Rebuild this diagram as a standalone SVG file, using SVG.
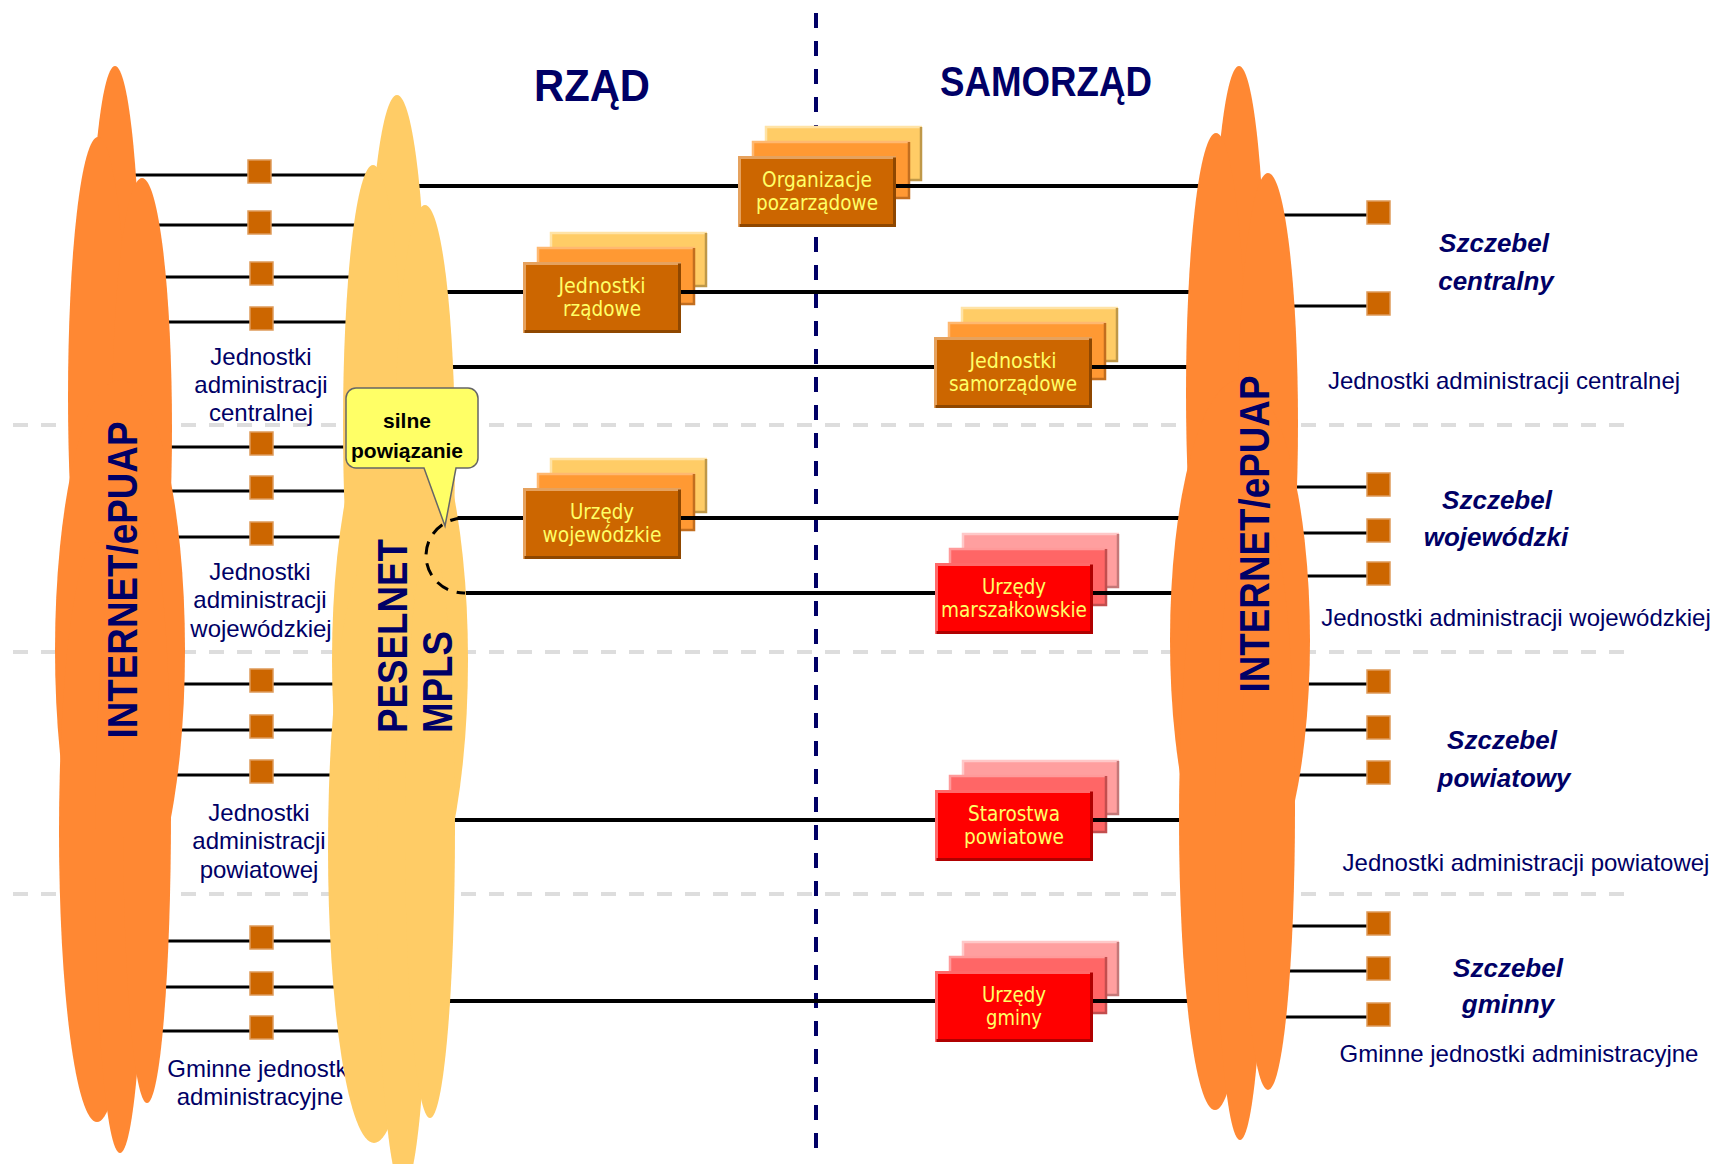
<svg xmlns="http://www.w3.org/2000/svg" width="1715" height="1164" viewBox="0 0 1715 1164">
<style>
.gd{stroke:#DDDDDD;stroke-width:4;stroke-dasharray:15 13;fill:none}
.vd{stroke:#000066;stroke-width:4;stroke-dasharray:15 13;fill:none}
.ln{stroke:#000;stroke-width:4;fill:none}
.lt{stroke:#000;stroke-width:3;fill:none}
.arc{stroke:#000;stroke-width:3;stroke-dasharray:13 9;fill:none}
.sq{fill:#CC6600;stroke:#DE9A5A;stroke-width:1.5}
.lbl{font-family:"Liberation Sans",Arial,sans-serif;font-size:24px;fill:#000066;text-anchor:middle}
.lvl{font-family:"Liberation Sans",Arial,sans-serif;font-size:26px;font-weight:bold;font-style:italic;fill:#000066;text-anchor:middle}
.cl{font-family:"Liberation Sans",Arial,sans-serif;font-size:42px;font-weight:bold;fill:#000066}
.ttl{font-family:"Liberation Sans",Arial,sans-serif;font-weight:bold;fill:#000066;text-anchor:middle}
.bt{font-family:"DejaVu Sans Condensed","DejaVu Sans",sans-serif;font-stretch:condensed;font-size:21px;fill:#FFFF66;text-anchor:middle}
.bub{font-family:"Liberation Sans",Arial,sans-serif;font-size:21px;font-weight:bold;fill:#000;text-anchor:middle}
.o1{fill:#CC6600}.o1l{stroke:#E6A25E;stroke-width:3;fill:none}.o1d{stroke:#8F4700;stroke-width:3;fill:none}
.o2{fill:#FF9933}.o2l{stroke:#FFB870;stroke-width:2.5;fill:none}.o2d{stroke:#C26E1F;stroke-width:2.5;fill:none}
.o3{fill:#FFCC66}.o3l{stroke:#FFE3A6;stroke-width:2.5;fill:none}.o3d{stroke:#BF9848;stroke-width:2.5;fill:none}
.r1{fill:#FF0000}.r1l{stroke:#FF6A6A;stroke-width:3;fill:none}.r1d{stroke:#B00000;stroke-width:3;fill:none}
.r2{fill:#FF6666}.r2l{stroke:#FF9A9A;stroke-width:2.5;fill:none}.r2d{stroke:#C24E4E;stroke-width:2.5;fill:none}
.r3{fill:#FF9F9F}.r3l{stroke:#FFC8C8;stroke-width:2.5;fill:none}.r3d{stroke:#C47878;stroke-width:2.5;fill:none}
.cloudO{fill:#FF8833}
.cloudY{fill:#FFCC66}
</style>

<!-- background guides -->
<g id="guides">
<line class="gd" x1="13" y1="425" x2="1624" y2="425"/>
<line class="gd" x1="13" y1="652" x2="1624" y2="652"/>
<line class="gd" x1="13" y1="894" x2="1624" y2="894"/>
<line class="vd" x1="816" y1="13" x2="816" y2="1148"/>
</g>

<!-- stacked back layers of boxes -->
<g id="stack-layers">
<rect class="o3" x="765" y="126" width="157" height="55"/><path class="o3l" d="M766,181V127H922"/><path class="o3d" d="M921,127V180H766"/>
<rect class="o2" x="752" y="141" width="158" height="58"/><path class="o2l" d="M753,199V142H910"/><path class="o2d" d="M909,142V198H753"/>
<rect class="o3" x="550" y="232" width="157" height="55"/><path class="o3l" d="M551,287V233H707"/><path class="o3d" d="M706,233V286H551"/>
<rect class="o2" x="537" y="247" width="158" height="58"/><path class="o2l" d="M538,305V248H695"/><path class="o2d" d="M694,248V304H538"/>
<rect class="o3" x="961" y="307" width="157" height="55"/><path class="o3l" d="M962,362V308H1118"/><path class="o3d" d="M1117,308V361H962"/>
<rect class="o2" x="948" y="322" width="158" height="58"/><path class="o2l" d="M949,380V323H1106"/><path class="o2d" d="M1105,323V379H949"/>
<rect class="o3" x="550" y="458" width="157" height="55"/><path class="o3l" d="M551,513V459H707"/><path class="o3d" d="M706,459V512H551"/>
<rect class="o2" x="537" y="473" width="158" height="58"/><path class="o2l" d="M538,531V474H695"/><path class="o2d" d="M694,474V530H538"/>
<rect class="r3" x="962" y="533" width="157" height="55"/><path class="r3l" d="M963,588V534H1119"/><path class="r3d" d="M1118,534V587H963"/>
<rect class="r2" x="949" y="548" width="158" height="58"/><path class="r2l" d="M950,606V549H1107"/><path class="r2d" d="M1106,549V605H950"/>
<rect class="r3" x="962" y="760" width="157" height="55"/><path class="r3l" d="M963,815V761H1119"/><path class="r3d" d="M1118,761V814H963"/>
<rect class="r2" x="949" y="775" width="158" height="58"/><path class="r2l" d="M950,833V776H1107"/><path class="r2d" d="M1106,776V832H950"/>
<rect class="r3" x="962" y="941" width="157" height="55"/><path class="r3l" d="M963,996V942H1119"/><path class="r3d" d="M1118,942V995H963"/>
<rect class="r2" x="949" y="956" width="158" height="58"/><path class="r2l" d="M950,1014V957H1107"/><path class="r2d" d="M1106,957V1013H950"/>
</g>

<!-- connectors -->
<g id="connectors">
<line class="ln" x1="395" y1="186" x2="1240" y2="186"/>
<line class="ln" x1="395" y1="292" x2="1240" y2="292"/>
<line class="ln" x1="395" y1="367" x2="1240" y2="367"/>
<line class="ln" x1="395" y1="518" x2="1240" y2="518"/>
<line class="ln" x1="465" y1="593" x2="1240" y2="593"/>
<line class="ln" x1="395" y1="820" x2="1240" y2="820"/>
<line class="ln" x1="395" y1="1001" x2="1240" y2="1001"/>
<line class="lt" x1="118" y1="175" x2="395" y2="175"/>
<line class="lt" x1="118" y1="225" x2="395" y2="225"/>
<line class="lt" x1="118" y1="277" x2="395" y2="277"/>
<line class="lt" x1="118" y1="322" x2="395" y2="322"/>
<line class="lt" x1="118" y1="447" x2="395" y2="447"/>
<line class="lt" x1="118" y1="491" x2="395" y2="491"/>
<line class="lt" x1="118" y1="537" x2="395" y2="537"/>
<line class="lt" x1="118" y1="684" x2="395" y2="684"/>
<line class="lt" x1="118" y1="730" x2="395" y2="730"/>
<line class="lt" x1="118" y1="775" x2="395" y2="775"/>
<line class="lt" x1="118" y1="941" x2="395" y2="941"/>
<line class="lt" x1="118" y1="987" x2="395" y2="987"/>
<line class="lt" x1="118" y1="1031" x2="395" y2="1031"/>
<line class="lt" x1="1240" y1="215" x2="1375" y2="215"/>
<line class="lt" x1="1240" y1="306" x2="1375" y2="306"/>
<line class="lt" x1="1240" y1="487" x2="1375" y2="487"/>
<line class="lt" x1="1240" y1="533" x2="1375" y2="533"/>
<line class="lt" x1="1240" y1="576" x2="1375" y2="576"/>
<line class="lt" x1="1240" y1="684" x2="1375" y2="684"/>
<line class="lt" x1="1240" y1="730" x2="1375" y2="730"/>
<line class="lt" x1="1240" y1="775" x2="1375" y2="775"/>
<line class="lt" x1="1240" y1="926" x2="1375" y2="926"/>
<line class="lt" x1="1240" y1="971" x2="1375" y2="971"/>
<line class="lt" x1="1240" y1="1017" x2="1375" y2="1017"/>
</g>

<!-- left level labels (behind PESELNET cloud) -->
<g id="left-labels">
<text class="lbl" x="261" y="365">Jednostki</text>
<text class="lbl" x="261" y="393">administracji</text>
<text class="lbl" x="261" y="421">centralnej</text>
<text class="lbl" x="260" y="580">Jednostki</text>
<text class="lbl" x="260" y="608">administracji</text>
<text class="lbl" x="261" y="637">wojewódzkiej</text>
<text class="lbl" x="259" y="821">Jednostki</text>
<text class="lbl" x="259" y="849">administracji</text>
<text class="lbl" x="259" y="878">powiatowej</text>
<text class="lbl" x="260" y="1077">Gminne jednostki</text>
<text class="lbl" x="260" y="1105">administracyjne</text>
</g>

<!-- clouds -->
<g id="cloud-internet-left" class="cloudO">
<ellipse cx="115" cy="336" rx="26" ry="270"/>
<ellipse cx="98" cy="397" rx="30" ry="260"/>
<ellipse cx="142" cy="428" rx="30" ry="250"/>
<ellipse cx="120" cy="650" rx="65" ry="270"/>
<ellipse cx="97" cy="832" rx="38" ry="290"/>
<ellipse cx="120" cy="853" rx="25" ry="300"/>
<ellipse cx="147" cy="813" rx="24" ry="290"/>
<text class="cl" transform="translate(137,580) rotate(-90)" text-anchor="middle" textLength="317" lengthAdjust="spacingAndGlyphs">INTERNET/ePUAP</text>
</g>

<g id="cloud-peselnet" class="cloudY">
<ellipse cx="397" cy="365" rx="30" ry="270"/>
<ellipse cx="373" cy="425" rx="30" ry="260"/>
<ellipse cx="425" cy="455" rx="30" ry="250"/>
<ellipse cx="400" cy="660" rx="68" ry="270"/>
<ellipse cx="374" cy="848" rx="46" ry="295"/>
<ellipse cx="403" cy="880" rx="26" ry="310"/>
<ellipse cx="430" cy="828" rx="25" ry="290"/>
<text class="cl" transform="translate(407,733) rotate(-90)" textLength="194" lengthAdjust="spacingAndGlyphs">PESELNET</text>
<text class="cl" transform="translate(452,733) rotate(-90)" textLength="102" lengthAdjust="spacingAndGlyphs">MPLS</text>
</g>

<g id="cloud-internet-right" class="cloudO">
<ellipse cx="1239" cy="336" rx="27" ry="270"/>
<ellipse cx="1216" cy="393" rx="30" ry="260"/>
<ellipse cx="1268" cy="423" rx="30" ry="250"/>
<ellipse cx="1240" cy="640" rx="70" ry="260"/>
<ellipse cx="1215" cy="820" rx="36" ry="290"/>
<ellipse cx="1240" cy="840" rx="25" ry="300"/>
<ellipse cx="1268" cy="810" rx="27" ry="280"/>
<text class="cl" transform="translate(1269,534) rotate(-90)" text-anchor="middle" textLength="317" lengthAdjust="spacingAndGlyphs">INTERNET/ePUAP</text>
</g>

<!-- unit squares -->
<g id="sq-l1"><rect class="sq" x="248" y="160" width="23" height="23"/></g>
<g id="sq-l2"><rect class="sq" x="248" y="211" width="23" height="23"/></g>
<g id="sq-l3"><rect class="sq" x="250" y="262" width="23" height="23"/></g>
<g id="sq-l4"><rect class="sq" x="250" y="307" width="23" height="23"/></g>
<g id="sq-l5"><rect class="sq" x="250" y="432" width="23" height="23"/></g>
<g id="sq-l6"><rect class="sq" x="250" y="476" width="23" height="23"/></g>
<g id="sq-l7"><rect class="sq" x="250" y="522" width="23" height="23"/></g>
<g id="sq-l8"><rect class="sq" x="250" y="669" width="23" height="23"/></g>
<g id="sq-l9"><rect class="sq" x="250" y="715" width="23" height="23"/></g>
<g id="sq-l10"><rect class="sq" x="250" y="760" width="23" height="23"/></g>
<g id="sq-l11"><rect class="sq" x="250" y="926" width="23" height="23"/></g>
<g id="sq-l12"><rect class="sq" x="250" y="972" width="23" height="23"/></g>
<g id="sq-l13"><rect class="sq" x="250" y="1016" width="23" height="23"/></g>
<g id="sq-r1"><rect class="sq" x="1367" y="201" width="23" height="23"/></g>
<g id="sq-r2"><rect class="sq" x="1367" y="292" width="23" height="23"/></g>
<g id="sq-r3"><rect class="sq" x="1367" y="473" width="23" height="23"/></g>
<g id="sq-r4"><rect class="sq" x="1367" y="519" width="23" height="23"/></g>
<g id="sq-r5"><rect class="sq" x="1367" y="562" width="23" height="23"/></g>
<g id="sq-r6"><rect class="sq" x="1367" y="670" width="23" height="23"/></g>
<g id="sq-r7"><rect class="sq" x="1367" y="716" width="23" height="23"/></g>
<g id="sq-r8"><rect class="sq" x="1367" y="761" width="23" height="23"/></g>
<g id="sq-r9"><rect class="sq" x="1367" y="912" width="23" height="23"/></g>
<g id="sq-r10"><rect class="sq" x="1367" y="957" width="23" height="23"/></g>
<g id="sq-r11"><rect class="sq" x="1367" y="1003" width="23" height="23"/></g>

<!-- front boxes -->
<g id="node-organizacje">
<rect class="o1" x="738" y="156" width="158" height="71"/><path class="o1l" d="M739.5,227V157.5H896"/><path class="o1d" d="M894.5,157.5V225.5H739.5"/>
<text class="bt" x="817" y="187" textLength="110" lengthAdjust="spacingAndGlyphs">Organizacje</text>
<text class="bt" x="817" y="210" textLength="122" lengthAdjust="spacingAndGlyphs">pozarządowe</text>
</g>
<g id="node-jednostki-rzadowe">
<rect class="o1" x="523" y="262" width="158" height="71"/><path class="o1l" d="M524.5,333V263.5H681"/><path class="o1d" d="M679.5,263.5V331.5H524.5"/>
<text class="bt" x="602" y="293" textLength="87" lengthAdjust="spacingAndGlyphs">Jednostki</text>
<text class="bt" x="602" y="316" textLength="78" lengthAdjust="spacingAndGlyphs">rządowe</text>
</g>
<g id="node-jednostki-samorzadowe">
<rect class="o1" x="934" y="337" width="158" height="71"/><path class="o1l" d="M935.5,408V338.5H1092"/><path class="o1d" d="M1090.5,338.5V406.5H935.5"/>
<text class="bt" x="1013" y="368" textLength="87" lengthAdjust="spacingAndGlyphs">Jednostki</text>
<text class="bt" x="1013" y="391" textLength="128" lengthAdjust="spacingAndGlyphs">samorządowe</text>
</g>
<g id="node-urzedy-wojewodzkie">
<rect class="o1" x="523" y="488" width="158" height="71"/><path class="o1l" d="M524.5,559V489.5H681"/><path class="o1d" d="M679.5,489.5V557.5H524.5"/>
<text class="bt" x="602" y="519" textLength="64" lengthAdjust="spacingAndGlyphs">Urzędy</text>
<text class="bt" x="602" y="542" textLength="119" lengthAdjust="spacingAndGlyphs">wojewódzkie</text>
</g>
<g id="node-urzedy-marszalkowskie">
<rect class="r1" x="935" y="563" width="158" height="71"/><path class="r1l" d="M936.5,634V564.5H1093"/><path class="r1d" d="M1091.5,564.5V632.5H936.5"/>
<text class="bt" x="1014" y="594" textLength="64" lengthAdjust="spacingAndGlyphs">Urzędy</text>
<text class="bt" x="1014" y="617" textLength="146" lengthAdjust="spacingAndGlyphs">marszałkowskie</text>
</g>
<g id="node-starostwa-powiatowe">
<rect class="r1" x="935" y="790" width="158" height="71"/><path class="r1l" d="M936.5,861V791.5H1093"/><path class="r1d" d="M1091.5,791.5V859.5H936.5"/>
<text class="bt" x="1014" y="821" textLength="92" lengthAdjust="spacingAndGlyphs">Starostwa</text>
<text class="bt" x="1014" y="844" textLength="100" lengthAdjust="spacingAndGlyphs">powiatowe</text>
</g>
<g id="node-urzedy-gminy">
<rect class="r1" x="935" y="971" width="158" height="71"/><path class="r1l" d="M936.5,1042V972.5H1093"/><path class="r1d" d="M1091.5,972.5V1040.5H936.5"/>
<text class="bt" x="1014" y="1002" textLength="64" lengthAdjust="spacingAndGlyphs">Urzędy</text>
<text class="bt" x="1014" y="1025" textLength="56" lengthAdjust="spacingAndGlyphs">gminy</text>
</g>

<!-- strong link: dashed arc + callout -->
<g id="strong-link">
<path class="arc" d="M463,518 A38,37.5 0 0 0 465,593"/>
</g>
<g id="callout">
<path d="M356,388H468A10,10 0 0 1 478,398V458A10,10 0 0 1 468,468H456L445,526L424,468H356A10,10 0 0 1 346,458V398A10,10 0 0 1 356,388Z" fill="#FFFF66" stroke="#666666" stroke-width="1.5"/>
<text class="bub" x="407" y="428">silne</text>
<text class="bub" x="407" y="458">powiązanie</text>
</g>

<!-- titles -->
<g id="titles">
<text class="ttl" x="592" y="101" font-size="44" textLength="116" lengthAdjust="spacingAndGlyphs">RZĄD</text>
<text class="ttl" x="1046" y="96" font-size="42" textLength="212" lengthAdjust="spacingAndGlyphs">SAMORZĄD</text>
</g>

<!-- right labels -->
<g id="right-labels">
<text class="lvl" x="1494" y="252">Szczebel</text>
<text class="lvl" x="1496" y="290">centralny</text>
<text class="lbl" x="1504" y="389">Jednostki administracji centralnej</text>
<text class="lvl" x="1497" y="509">Szczebel</text>
<text class="lvl" x="1496" y="546">wojewódzki</text>
<text class="lbl" x="1516" y="626">Jednostki administracji wojewódzkiej</text>
<text class="lvl" x="1502" y="749">Szczebel</text>
<text class="lvl" x="1504" y="787">powiatowy</text>
<text class="lbl" x="1526" y="871">Jednostki administracji powiatowej</text>
<text class="lvl" x="1508" y="977">Szczebel</text>
<text class="lvl" x="1508" y="1013">gminny</text>
<text class="lbl" x="1519" y="1062">Gminne jednostki administracyjne</text>
</g>
</svg>
